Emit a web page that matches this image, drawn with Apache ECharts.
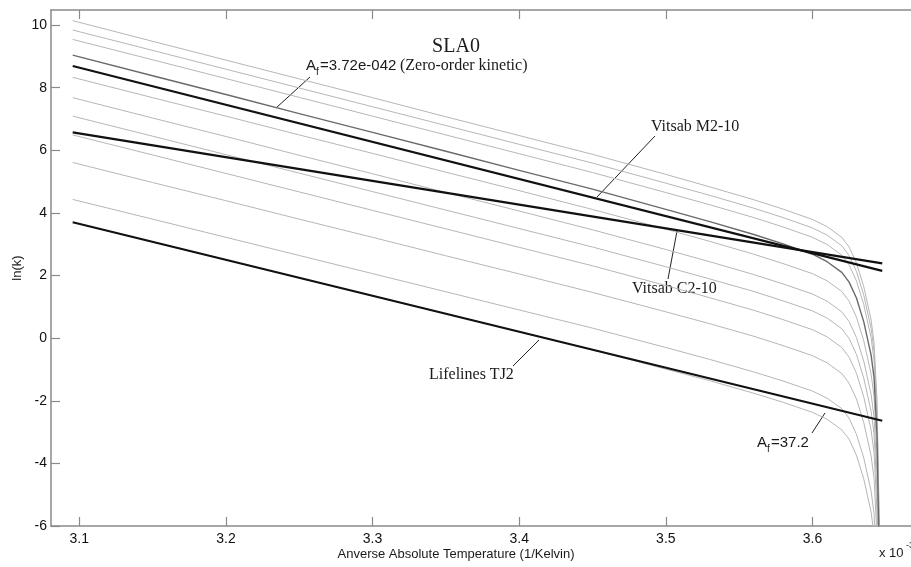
<!DOCTYPE html>
<html>
<head>
<meta charset="utf-8">
<script src="https://cdn.jsdelivr.net/npm/echarts@6/dist/echarts.min.js"></script>
<style>html,body{margin:0;padding:0;background:#fff;}#c{width:911px;height:567px;}</style>
</head>
<body>
<div id="c"></div>
<script>
// x values in units of 1e-3 (1/Kelvin)
const xs = [3.0955, 3.15, 3.2, 3.25, 3.3, 3.35, 3.4, 3.45, 3.5, 3.53, 3.56, 3.58, 3.6, 3.61, 3.62, 3.625, 3.63, 3.635, 3.64, 3.642, 3.644, 3.645, 3.6476];
// gray model curves (ln k)
const g1 = [10.14, 9.48, 8.88, 8.28, 7.68, 7.07, 6.47, 5.87, 5.23, 4.83, 4.42, 4.12, 3.79, 3.56, 3.22, 2.91, 2.40, 1.64, 0.58, -0.15, -1.97, -4.48, -10.51];
const g2 = [9.84, 9.19, 8.59, 7.99, 7.39, 6.79, 6.19, 5.59, 4.95, 4.56, 4.15, 3.85, 3.52, 3.29, 2.95, 2.64, 2.13, 1.37, 0.31, -0.42, -2.24, -4.75, -10.78];
const g3 = [9.54, 8.89, 8.29, 7.69, 7.09, 6.49, 5.89, 5.29, 4.65, 4.26, 3.85, 3.55, 3.22, 2.99, 2.65, 2.34, 1.83, 1.07, 0.01, -0.72, -2.54, -5.05, -11.08];
const zeroOrder = [9.04, 8.38, 7.78, 7.17, 6.57, 5.97, 5.36, 4.76, 4.11, 3.72, 3.31, 3.01, 2.68, 2.44, 2.10, 1.79, 1.28, 0.52, -0.54, -1.26, -3.09, -5.60, -11.63];
const g5 = [8.33, 7.68, 7.09, 6.49, 5.90, 5.30, 4.71, 4.11, 3.48, 3.09, 2.68, 2.38, 2.06, 1.83, 1.49, 1.18, 0.67, -0.09, -1.15, -1.87, -3.70, -6.21, -12.24];
const g6 = [7.68, 7.03, 6.44, 5.84, 5.25, 4.65, 4.06, 3.46, 2.83, 2.44, 2.03, 1.73, 1.41, 1.18, 0.84, 0.53, 0.02, -0.74, -1.80, -2.52, -4.35, -6.86, -12.89];
const g7 = [7.09, 6.45, 5.86, 5.27, 4.68, 4.09, 3.50, 2.91, 2.28, 1.89, 1.49, 1.19, 0.87, 0.64, 0.30, -0.01, -0.52, -1.28, -2.34, -3.06, -4.88, -7.39, -13.42];
const g8 = [6.49, 5.85, 5.26, 4.67, 4.08, 3.49, 2.90, 2.31, 1.68, 1.29, 0.89, 0.59, 0.27, 0.04, -0.30, -0.61, -1.12, -1.88, -2.94, -3.66, -5.48, -7.99, -14.02];
const g9 = [5.61, 4.97, 4.39, 3.80, 3.22, 2.63, 2.05, 1.46, 0.84, 0.46, 0.06, -0.24, -0.56, -0.79, -1.13, -1.44, -1.94, -2.70, -3.76, -4.48, -6.31, -8.82, -14.85];
const g10 = [4.43, 3.80, 3.22, 2.64, 2.06, 1.48, 0.90, 0.32, -0.30, -0.68, -1.08, -1.37, -1.69, -1.92, -2.25, -2.56, -3.07, -3.83, -4.89, -5.61, -7.43, -9.94, -15.97];
const af372 = [3.70, 3.07, 2.50, 1.92, 1.35, 0.78, 0.20, -0.37, -0.99, -1.36, -1.76, -2.05, -2.37, -2.59, -2.93, -3.23, -3.74, -4.50, -5.56, -6.28, -8.10, -10.61, -16.64];
// indicator (thick) lines
const indX = [3.0955, 3.6476];
const vitsabM2 = [8.69, 2.15];
const vitsabC2 = [6.57, 2.39];
const lifelinesTJ2 = [3.70, -2.64];
// ticks
const xTicks = [3.1, 3.2, 3.3, 3.4, 3.5, 3.6];
const yTicks = [-6, -4, -2, 0, 2, 4, 6, 8, 10];

const pair = (xv, yv) => xv.map((x, i) => [x, yv[i]]);
const grays = [g1, g2, g3, g5, g6, g7, g8, g9, g10, af372];

const SANS = '"Liberation Sans", Arial, sans-serif';
const SERIF = '"Liberation Serif", "Times New Roman", serif';
const AXC = '#8a8a8a';

const series = [];
grays.forEach(g => series.push({type: 'line', data: pair(xs, g), showSymbol: false, silent: true, clip: true,
  lineStyle: {color: '#b6b6b6', width: 1}}));
series.push({type: 'line', data: pair(xs, zeroOrder), showSymbol: false, silent: true, clip: true,
  lineStyle: {color: '#6a6a6a', width: 1.4}});
[vitsabM2, vitsabC2, lifelinesTJ2].forEach(v => series.push({type: 'line', data: pair(indX, v), showSymbol: false, silent: true, clip: true,
  lineStyle: {color: '#111', width: 2.2}}));

function txt(text, x, y, font, align, vAlign, extra) {
  return Object.assign({type: 'text', x: x, y: y, silent: true,
    style: Object.assign({text: text, font: font, fill: '#1a1a1a', align: align, verticalAlign: vAlign,
      textAlign: align, textVerticalAlign: vAlign})}, extra || {});
}
function seg(x1, y1, x2, y2) {
  return {type: 'line', silent: true, shape: {x1, y1, x2, y2}, style: {stroke: '#222', lineWidth: 1}};
}

const chart = echarts.init(document.getElementById('c'), null, {renderer: 'canvas'});
chart.setOption({
  animation: false,
  backgroundColor: '#fff',
  grid: {left: 51, top: 10, width: 861, height: 516, containLabel: false},
  xAxis: [{
    type: 'value', min: 3.0807, max: 3.6672, position: 'bottom',
    axisLine: {onZero: false, lineStyle: {color: AXC, width: 1.5}},
    axisTick: {inside: true, length: 9, lineStyle: {color: AXC, width: 1.2}, customValues: xTicks},
    axisLabel: {customValues: xTicks, formatter: v => v.toFixed(1), color: '#111', fontFamily: SANS, fontSize: 14, margin: 6},
    splitLine: {show: false}
  }, {
    type: 'value', min: 3.0807, max: 3.6672, position: 'top',
    axisLine: {onZero: false, lineStyle: {color: AXC, width: 1.5}},
    axisTick: {inside: true, length: 9, lineStyle: {color: AXC, width: 1.2}, customValues: xTicks},
    axisLabel: {show: false}, splitLine: {show: false}
  }],
  yAxis: [{
    type: 'value', min: -6, max: 10.48,
    axisLine: {show: true, onZero: false, lineStyle: {color: AXC, width: 1.5}},
    axisTick: {show: true, inside: true, length: 9, lineStyle: {color: AXC, width: 1.2}, customValues: yTicks},
    axisLabel: {customValues: yTicks, color: '#111', fontFamily: SANS, fontSize: 14, margin: 4},
    splitLine: {show: false}
  }],
  series: series,
  graphic: [
    txt('SLA0', 456, 47, '20px ' + SERIF, 'center', 'middle'),
    txt('A', 306, 66, '15px ' + SANS, 'left', 'middle'),
    txt('f', 316, 72, '10px ' + SANS, 'left', 'middle'),
    txt('=3.72e-042', 320, 66, '15px ' + SANS, 'left', 'middle'),
    txt('(Zero-order kinetic)', 400, 66, '16px ' + SERIF, 'left', 'middle'),
    seg(310, 77, 276, 108),
    txt('Vitsab M2-10', 651, 127, '16px ' + SERIF, 'left', 'middle'),
    seg(655, 136, 597, 197),
    txt('Vitsab C2-10', 632, 289, '16px ' + SERIF, 'left', 'middle'),
    seg(677, 231, 668, 279),
    txt('Lifelines TJ2', 429, 375, '16px ' + SERIF, 'left', 'middle'),
    seg(513, 366, 539, 340),
    txt('A', 757, 443, '15px ' + SANS, 'left', 'middle'),
    txt('f', 767, 449, '10px ' + SANS, 'left', 'middle'),
    txt('=37.2', 771, 443, '15px ' + SANS, 'left', 'middle'),
    seg(812, 433, 825, 413),
    txt('Anverse Absolute Temperature (1/Kelvin)', 456, 554, '13px ' + SANS, 'center', 'middle'),
    txt('ln(k)', 17, 268, '13px ' + SANS, 'center', 'middle', {rotation: Math.PI / 2}),
    txt('x 10', 879, 553, '13px ' + SANS, 'left', 'middle'),
    txt('-3', 906, 546, '9px ' + SANS, 'left', 'middle')
  ]
});
</script>
</body>
</html>
